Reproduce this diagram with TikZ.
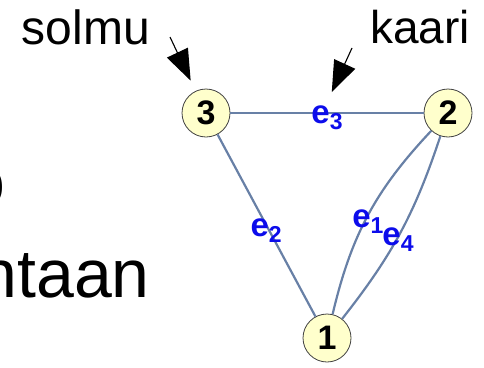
\documentclass[tikz,border=0pt]{standalone}
\usepackage{fontspec}
\setmainfont{Liberation Sans}
\usetikzlibrary{arrows.meta,calc}
\definecolor{nodefill}{RGB}{255,255,204}
\definecolor{edgecol}{RGB}{104,128,166}
\definecolor{labcol}{RGB}{12,12,235}
\tikzstyle{vert}=[circle,draw=black!75,fill=nodefill,line width=0.8pt,minimum size=48pt,inner sep=0pt,font=\fontsize{34}{34}\selectfont\bfseries]
\tikzstyle{link}=[draw=edgecol,line width=2.2pt]
\tikzstyle{lab}=[text=labcol,inner sep=0pt,anchor=base,font=\fontsize{33}{33}\selectfont\bfseries]
\tikzstyle{word}=[inner sep=0pt,text=black]
\tikzstyle{pointer}=[line width=1.1pt,-{Triangle[length=31pt,width=23pt]}]
\newcommand{\elab}[1]{e\raisebox{-6pt}{\fontsize{23}{23}\selectfont #1}}

\begin{document}
\begin{tikzpicture}[x=1pt,y=1pt]
\useasboundingbox (0,0) rectangle (484,-367);
% words around the graph
\node (o) [word,anchor=base east,font=\fontsize{68}{68}\selectfont] at (6,-205) {o};
\node (ntaan) [word,anchor=base east,font=\fontsize{68}{68}\selectfont] at (150,-297) {ntaan};
\node (solmu) [word,anchor=base west,font=\fontsize{48}{48}\selectfont] at (21.5,-44.5) {solmu};
\node (kaari) [word,anchor=base west,font=\fontsize{46}{46}\selectfont] at (370,-43) {kaari};
% vertices
\node (V3) [vert] at (206,-113) {3};
\node (V2) [vert] at (448,-113) {2};
\node (V1) [vert] at (327,-338) {1};
% edges
\draw[link] (V3) -- node[lab,midway,yshift=-10pt] (L3) {\elab{3}} (V2);
\draw[link] (V3) -- node[lab,pos=0.558,xshift=-6pt] (L2) {\elab{2}} (V1);
\draw[link] (V1) to[bend left=15] node[lab,pos=0.43,xshift=6pt] (L1) {\elab{1}} (V2);
\draw[link] (V1) to[bend right=10] node[lab,pos=0.42,xshift=5pt] (L4) {\elab{4}} (V2);
% pointers
\coordinate (solmutail) at (170,-37);
\coordinate (kaaritail) at (352,-48);
\coordinate (e3pt) at ($(V3)!0.48!(V2)$);
\draw[pointer,shorten >=11.4pt] (solmutail) -- (V3);
\draw[pointer,shorten >=23pt] (kaaritail) -- (e3pt);
\end{tikzpicture}
\end{document}
